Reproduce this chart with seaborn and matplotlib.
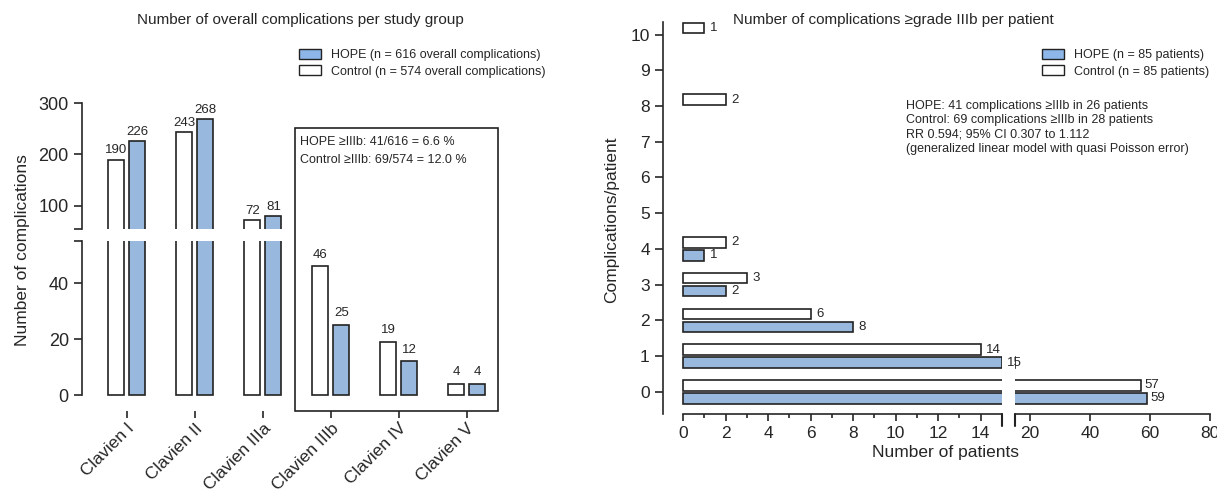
import numpy as np
import pandas as pd
import matplotlib
matplotlib.use("Agg")
import matplotlib.pyplot as plt
import seaborn as sns
from matplotlib.patches import Rectangle, Patch

sns.set_style("white")
plt.rcParams['font.family'] = ['Liberation Sans', 'DejaVu Sans']

BLUE = "#8DB7E8"
W, H = 1217, 490

# left panel data
grades = ["Clavien I", "Clavien II", "Clavien IIIa", "Clavien IIIb", "Clavien IV", "Clavien V"]
control_counts = [190, 243, 72, 46, 19, 4]
hope_counts = [226, 268, 81, 25, 12, 4]

# right panel data
comp_per_patient = [0, 1, 2, 3, 4, 8, 10]
hope_patients = [59, 15, 8, 2, 1, 0, 0]
control_patients = [57, 14, 6, 3, 2, 2, 1]

df_left = pd.DataFrame({
    "grade": grades * 2,
    "group": ["Control"] * 6 + ["HOPE"] * 6,
    "n": control_counts + hope_counts,
})
df_right = pd.DataFrame({
    "comp": comp_per_patient * 2,
    "group": ["HOPE"] * 7 + ["Control"] * 7,
    "n": hope_patients + control_patients,
})
df_right = df_right[df_right["n"] > 0]

pal = {"Control": "white", "HOPE": BLUE}


def fa(x0, y0, x1, y1):
    # pixel box -> figure fraction
    return [x0 / W, 1 - y1 / H, (x1 - x0) / W, (y1 - y0) / H]


fig = plt.figure(figsize=(W / 100, H / 100), dpi=100)

# ---------- left panel (broken y axis) ----------
ax_top = fig.add_axes(fa(82, 103, 498, 229))
ax_bot = fig.add_axes(fa(82, 241, 498, 411))
cut = 55
for ax in (ax_top, ax_bot):
    sns.barplot(data=df_left, x="grade", y="n", hue="group", hue_order=["Control", "HOPE"],
                palette=pal, edgecolor="#222222", linewidth=1.2, width=0.62, gap=0.25,
                legend=False, ax=ax)
    ax.set_xlim(-0.66, 5.46)
    ax.set_xlabel("")
    ax.set_ylabel("")
    for s in ("top", "right", "bottom"):
        ax.spines[s].set_visible(False)
    ax.spines["left"].set_linewidth(1.2)
    ax.tick_params(axis="y", length=6, width=1.2, labelsize=13, left=True)

ax_top.set_ylim(cut, 300)
ax_top.set_yticks([cut, 100, 200, 300], ["", "100", "200", "300"])
ax_top.set_xticks([])
ax_bot.set_ylim(-5.7, cut)
ax_bot.set_yticks([0, 20, 40, cut], ["0", "20", "40", ""])
ax_bot.spines["left"].set_bounds(0, cut)
ax_bot.tick_params(axis="x", length=5, width=1.2, labelsize=12.5, bottom=True, pad=2)
ax_bot.set_xticks(range(6), grades, rotation=45, ha="right", rotation_mode="anchor")

for bars, vals in zip(ax_bot.containers, [control_counts, hope_counts]):
    for rect, v in zip(bars, vals):
        xc = rect.get_x() + rect.get_width() / 2
        target = ax_top if v > cut else ax_bot
        off = 6 if v > cut else 2
        target.text(xc, v + off, str(v), ha="center", va="bottom", fontsize=9.5)

fig.text(0.0185, (H - 250) / H, "Number of complications", rotation=90,
         ha="center", va="center", fontsize=12.5)
fig.text(300 / W, 1 - 20 / H, "Number of overall complications per study group",
         ha="center", va="center", fontsize=11)
fig.add_artist(Rectangle((295 / W, 1 - 411 / H), 203 / W, 283 / H, transform=fig.transFigure,
                         fill=False, edgecolor="#222222", linewidth=1.2))
fig.text(300 / W, 1 - 142 / H, "HOPE \u2265IIIb: 41/616 = 6.6 %", fontsize=9, va="center")
fig.text(300 / W, 1 - 160 / H, "Control \u2265IIIb: 69/574 = 12.0 %", fontsize=9, va="center")
fig.legend(handles=[Patch(facecolor=BLUE, edgecolor="#222222", label="HOPE (n = 616 overall complications)"),
                    Patch(facecolor="white", edgecolor="#222222", label="Control (n = 574 overall complications)")],
           loc="upper left", bbox_to_anchor=(290 / W, 1 - 40 / H), frameon=False, fontsize=9,
           handlelength=1.8, handleheight=0.9, labelspacing=0.3, borderpad=0.2)

# ---------- right panel (broken x axis) ----------
ax_l = fig.add_axes(fa(663, 22, 1002, 414))
ax_r = fig.add_axes(fa(1015, 22, 1210, 414))
for ax in (ax_l, ax_r):
    sns.barplot(data=df_right, x="n", y="comp", hue="group", hue_order=["HOPE", "Control"],
                orient="h", native_scale=True, palette=pal, edgecolor="#222222",
                linewidth=1.2, width=0.72, gap=0.18, legend=False, ax=ax)
    ax.set_ylim(-0.62, 10.35)
    ax.set_xlabel("")
    ax.set_ylabel("")
    ax.patch.set_visible(False)
    for s in ("top", "right"):
        ax.spines[s].set_visible(False)
    ax.spines["bottom"].set_linewidth(1.2)
    ax.tick_params(axis="x", length=5, width=1.2, labelsize=12.5, bottom=True)
ax_l.set_zorder(3)

ax_l.set_xlim(-0.94, 15)
ax_l.spines["bottom"].set_bounds(0, 15)
ax_l.spines["left"].set_linewidth(1.2)
ax_l.set_xticks(range(0, 15, 2))
ax_l.set_xticks(range(1, 15, 2), minor=True)
ax_l.tick_params(axis="x", which="minor", length=3, width=1.2, bottom=True)
ax_l.set_yticks(range(11))
ax_l.tick_params(axis="y", length=6, width=1.2, labelsize=12.5, left=True)
ax_l.plot([15, 15], [-0.62, -0.95], color="#222222", lw=1.5, clip_on=False)

ax_r.set_xlim(15, 80)
ax_r.spines["left"].set_visible(False)
ax_r.spines["bottom"].set_bounds(15, 80)
ax_r.set_xticks([20, 40, 60, 80])
ax_r.set_yticks([])
ax_r.plot([15, 15], [-0.62, -0.95], color="#222222", lw=1.5, clip_on=False)

for bars in ax_l.containers:
    for rect in bars:
        v = rect.get_width()
        yc = rect.get_y() + rect.get_height() / 2
        if v <= 15:
            ax_l.text(v + 0.25, yc, f"{v:.0f}", va="center", fontsize=9.5, clip_on=False)
        else:
            ax_r.text(v + 1.2, yc, f"{v:.0f}", va="center", fontsize=9.5)

fig.text(612 / W, 1 - 220 / H, "Complications/patient", rotation=90,
         ha="center", va="center", fontsize=12.5)
fig.text(945 / W, 1 - 452 / H, "Number of patients", ha="center", va="center", fontsize=12.5)
fig.text(893 / W, 1 - 20 / H, "Number of complications \u2265grade IIIb per patient",
         ha="center", va="center", fontsize=11)
fig.legend(handles=[Patch(facecolor=BLUE, edgecolor="#222222", label="HOPE (n = 85 patients)"),
                    Patch(facecolor="white", edgecolor="#222222", label="Control (n = 85 patients)")],
           loc="upper left", bbox_to_anchor=(1033 / W, 1 - 40 / H), frameon=False, fontsize=9,
           handlelength=1.8, handleheight=0.9, labelspacing=0.3, borderpad=0.2)
fig.text(906 / W, 1 - 100 / H,
         "HOPE: 41 complications \u2265IIIb in 26 patients\n"
         "Control: 69 complications \u2265IIIb in 28 patients\n"
         "RR 0.594; 95% CI 0.307 to 1.112\n"
         "(generalized linear model with quasi Poisson error)",
         fontsize=9, va="top", linespacing=1.25)

fig.savefig("out.png", dpi=100)
